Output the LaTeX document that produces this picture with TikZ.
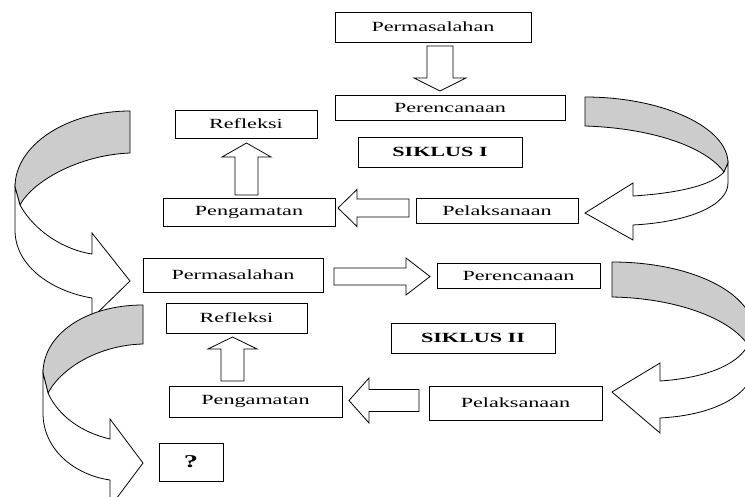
\documentclass[tikz,border=0pt]{standalone}
\usepackage{fontspec}
\setmainfont{Liberation Serif}[FakeStretch=1.58]
\usetikzlibrary{calc}
\definecolor{ribbon}{RGB}{204,204,204}
\tikzset{
  box/.style={draw=black, line width=0.8pt, inner sep=0pt, font=\fontsize{14}{16}\selectfont},
  blk/.style={draw=black, line width=0.8pt, fill=white, line join=miter},
  back/.style={draw=black, line width=0.8pt, fill=ribbon},
  front/.style={draw=black, line width=0.8pt, fill=white},
}
\newcommand\blockarrow[5]{%
  \coordinate (ba-h) at ($(#2)!#5!(#1)$);
  \draw[blk] ($(#1)!#3!90:(#2)$) -- ($(ba-h)!#3!-90:(#1)$) -- ($(ba-h)!#4!-90:(#1)$) -- (#2)
    -- ($(ba-h)!#4!90:(#1)$) -- ($(ba-h)!#3!90:(#1)$) -- ($(#1)!#3!-90:(#2)$) -- cycle;}
\begin{document}
\begin{tikzpicture}[x=1pt,y=-1pt]
\useasboundingbox (0,0) rectangle (745,496);
\fill[white] (0,0) rectangle (745,496);

% ---- curved ribbon arrows ----
% left, cycle I -> II
\draw[back] (130,111) .. controls (67,111) and (15,145) .. (15,187) -- (20,205)
  .. controls (32,182) and (78,155) .. (130,153) -- cycle;
\draw[front] (15,187) -- (15,230) .. controls (15,268) and (55,292) .. (92,298) -- (92,318)
  -- (130,281) -- (92,233) -- (92,254) .. controls (65,250) and (35,232) .. (20,205) -- cycle;
% left, cycle II -> ?
\draw[back] (143,305) .. controls (85,305) and (43,335) .. (43,373) -- (48,393)
  .. controls (62,367) and (100,345) .. (143,344) -- cycle;
\draw[front] (43,373) -- (43,413) .. controls (43,450) and (75,475) .. (110,480) -- (110,507)
  -- (143,463) -- (110,419) -- (110,439) .. controls (80,432) and (58,415) .. (48,393) -- cycle;
% right, cycle I
\draw[back] (585,97) .. controls (664,97) and (728,128) .. (728,163) -- (724,172)
  .. controls (705,146) and (650,128) .. (585,126) -- cycle;
\draw[front] (728,163) -- (728,183) .. controls (728,205) and (690,222) .. (633,225) -- (633,240)
  -- (585,213) -- (633,183) -- (633,196) .. controls (680,193) and (712,185) .. (724,172) -- cycle;
% right, cycle II
\draw[back] (612,262) .. controls (690,262) and (755,292) .. (755,335) -- (748,345)
  .. controls (730,318) and (675,298) .. (612,297) -- cycle;
\draw[front] (755,335) -- (755,365) .. controls (752,395) and (715,415) .. (660,418) -- (660,433)
  -- (612,392) -- (660,363) -- (660,381) .. controls (705,378) and (738,365) .. (748,345) -- cycle;

% ---- boxes ----
\node[box, minimum width=196, minimum height=30] (perm1) at (433,27) {Permasalahan};
\node[box, minimum width=230, minimum height=25] (ren1) at (450,107.5) {Perencanaan};
\node[box, minimum width=164, minimum height=30, font=\fontsize{14}{16}\selectfont\bfseries] (sik1) at (440,152) {SIKLUS I};
\node[box, minimum width=142, minimum height=28] (ref1) at (246,124) {Refleksi};
\node[box, minimum width=172, minimum height=28] (peng1) at (249,212) {Pengamatan};
\node[box, minimum width=162, minimum height=25] (pel1) at (497,210.5) {Pelaksanaan};

\node[box, minimum width=180, minimum height=34] (perm2) at (233,275) {Permasalahan};
\node[box, minimum width=163, minimum height=25] (ren2) at (518.5,275.5) {Perencanaan};
\node[box, minimum width=141, minimum height=30] (ref2) at (236.5,318) {Refleksi};
\node[box, minimum width=164, minimum height=30, font=\fontsize{14}{16}\selectfont\bfseries] (sik2) at (473,338) {SIKLUS II};
\node[box, minimum width=173, minimum height=31] (peng2) at (255.5,401.5) {Pengamatan};
\node[box, minimum width=173, minimum height=34] (pel2) at (515.5,403) {Pelaksanaan};
\node[box, minimum width=64, minimum height=38, font=\fontsize{18}{20}\selectfont\bfseries] (q) at (191,462) {?};

% ---- block arrows ----
\coordinate (a1s) at (440,46);   \coordinate (a1t) at (440,91);
\coordinate (a2s) at (246.5,195); \coordinate (a2t) at (246.5,143);
\coordinate (a3s) at (409,208);  \coordinate (a3t) at (338,208);
\coordinate (a4s) at (334,276.5); \coordinate (a4t) at (430,276.5);
\coordinate (a5s) at (232.5,381); \coordinate (a5t) at (232.5,337);
\coordinate (a6s) at (419,400.5); \coordinate (a6t) at (349,400.5);
\blockarrow{a1s}{a1t}{13pt}{26pt}{13pt}
\blockarrow{a2s}{a2t}{11.5pt}{24.5pt}{14pt}
\blockarrow{a3s}{a3t}{9pt}{18.5pt}{19pt}
\blockarrow{a4s}{a4t}{8.5pt}{18.5pt}{24pt}
\blockarrow{a5s}{a5t}{11.5pt}{24.5pt}{12pt}
\blockarrow{a6s}{a6t}{11pt}{22.5pt}{20pt}
\end{tikzpicture}
\end{document}
